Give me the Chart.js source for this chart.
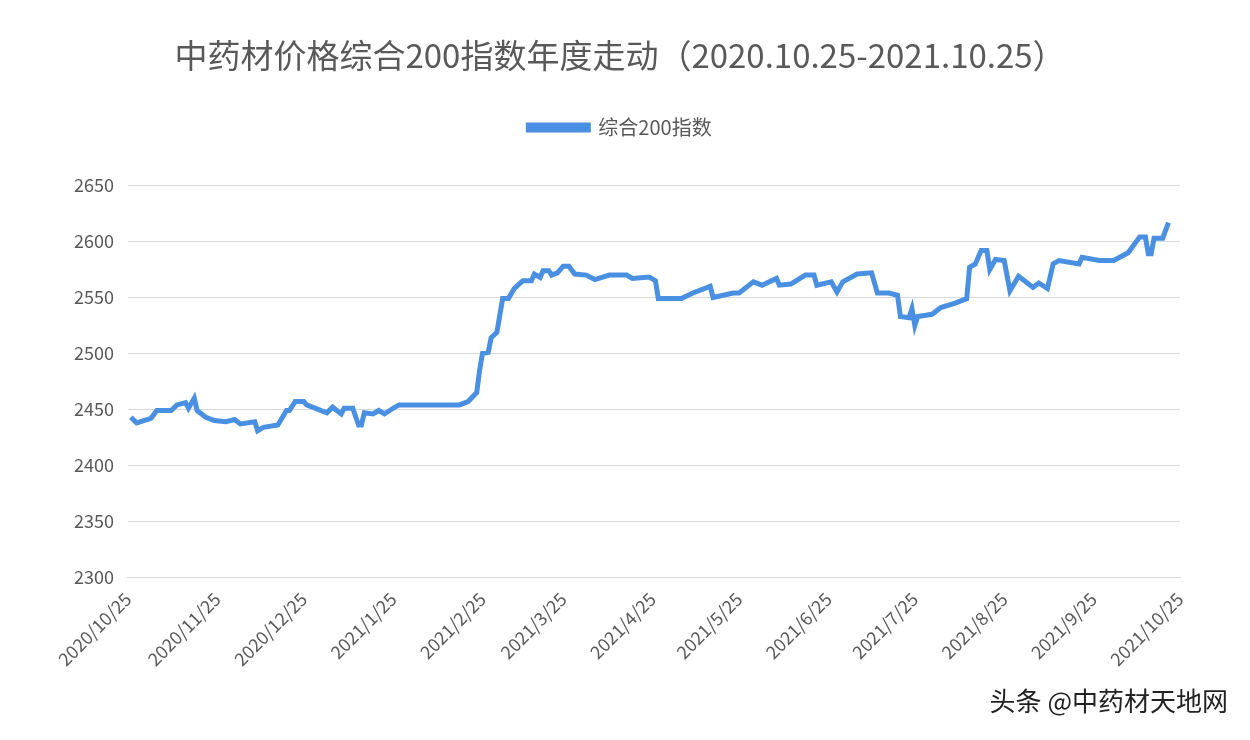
<!DOCTYPE html>
<html><head><meta charset="utf-8">
<script src="https://cdn.jsdelivr.net/npm/chart.js@4"></script>
<style>
html,body{margin:0;padding:0;background:#fff;}
#wrap{position:relative;width:1250px;height:740px;}
#wm{position:absolute;right:22px;bottom:22px;font-family:"Noto Sans CJK SC";font-size:26px;color:#222;}
</style></head><body>
<div id="wrap"><canvas id="c" width="1250" height="740"></canvas><div id="wm">头条 @中药材天地网</div></div>
<script>
const tickDays=[0,31,61,92,123,151,182,212,243,273,304,335,365];
const tickLabels=["2020/10/25","2020/11/25","2020/12/25","2021/1/25","2021/2/25","2021/3/25","2021/4/25","2021/5/25","2021/6/25","2021/7/25","2021/8/25","2021/9/25","2021/10/25"];
const days=[1,3,8,10,15,17,20,21,23,24,27,30,34,37,39,44,45,47,52,55,56,58,61,62,69,71,74,75,78,80,81,82,85,87,89,92,94,115,118,121,122,123,125,126,128,130,132,134,137,140,141,143,144,146,147,149,151,153,155,159,162,167,173,175,180,181,183,184,192,196,202,203,210,212,217,220,225,226,230,235,238,239,244,246,248,253,258,260,264,267,268,271,272,273,274,279,282,287,291,292,294,296,298,299,301,304,306,309,314,316,319,321,323,330,331,337,342,347,351,353,354,355,356,359,361];
const values=[2443,2438,2442,2449,2449,2454,2456,2451,2460,2449,2443,2440,2439,2441,2437,2439,2431,2434,2436,2449,2449,2457,2457,2454,2447,2452,2446,2451,2451,2436,2436,2447,2446,2449,2446,2451,2454,2454,2457,2465,2485,2500,2501,2514,2519,2549,2549,2558,2565,2565,2571,2568,2574,2574,2570,2572,2578,2578,2571,2570,2566,2570,2570,2567,2568,2568,2565,2549,2549,2554,2560,2550,2554,2554,2564,2561,2567,2561,2562,2570,2570,2561,2564,2555,2564,2571,2572,2554,2554,2552,2533,2532,2540,2525,2533,2535,2541,2545,2549,2577,2580,2592,2592,2575,2584,2583,2556,2569,2559,2563,2558,2580,2583,2580,2586,2583,2583,2590,2604,2604,2589,2589,2603,2603,2617];
const pts=days.map((d,i)=>({x:d,y:values[i]}));
new Chart(document.getElementById('c'),{
 type:'line',
 data:{datasets:[{label:'综合200指数',data:pts,borderColor:'#4a90e2',backgroundColor:'#4a90e2',borderWidth:5,pointRadius:0,tension:0}]},
 plugins:[{id:'legendGap',beforeInit(c){const f=c.legend.fit;c.legend.fit=function(){f.call(this);this.height+=38;};}}],
 options:{responsive:false,animation:false,
  layout:{padding:{left:60,right:70,top:20,bottom:67}},
  plugins:{
   title:{display:true,text:'中药材价格综合200指数年度走动（2020.10.25-2021.10.25）',color:'#595959',font:{family:'"Noto Sans CJK SC"',size:33,weight:'normal'},padding:{top:16,bottom:0}},
   legend:{labels:{color:'#595959',font:{family:'"Noto Sans CJK SC"',size:20},boxWidth:60,boxHeight:5,padding:42}},
   tooltip:{enabled:false}},
  scales:{
   x:{type:'linear',min:0,max:365,
    afterBuildTicks:a=>{a.ticks=tickDays.map(v=>({value:v}));},
    ticks:{autoSkip:false,maxRotation:45,minRotation:45,color:'#595959',font:{family:'"Noto Sans CJK SC"',size:18},callback:v=>tickLabels[tickDays.indexOf(v)]},
    grid:{display:false},border:{color:'#d9d9d9'}},
   y:{min:2300,max:2650,ticks:{stepSize:50,color:'#595959',padding:14,font:{family:'"Noto Sans CJK SC"',size:18},callback:v=>String(v)},
    grid:{color:'#d9d9d9',drawTicks:false},border:{display:false}}
  }}
});
</script></body></html>
